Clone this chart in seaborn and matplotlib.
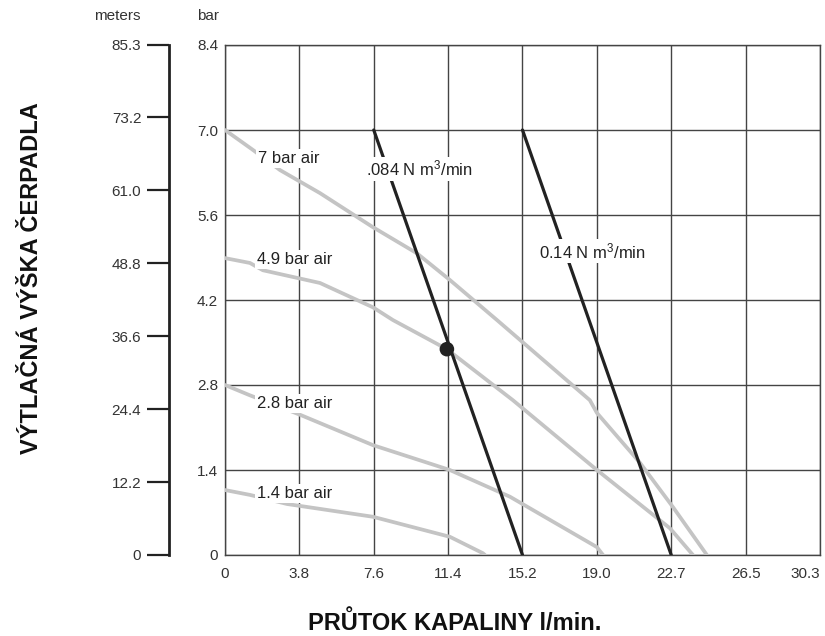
import matplotlib
matplotlib.use("Agg")
import matplotlib.pyplot as plt
import seaborn as sns

# Flow (l/min) vs. discharge pressure (bar)
x_ticks = [0, 3.7875, 7.575, 11.3625, 15.15, 18.9375, 22.725, 26.5125, 30.3]
x_labels = ["0", "3.8", "7.6", "11.4", "15.2", "19.0", "22.7", "26.5", "30.3"]
bar_ticks = [0, 1.4, 2.8, 4.2, 5.6, 7.0, 8.4]
bar_labels = ["0", "1.4", "2.8", "4.2", "5.6", "7.0", "8.4"]
meter_ticks = [0, 12.2, 24.4, 36.6, 48.8, 61.0, 73.2, 85.3]
meter_labels = ["0", "12.2", "24.4", "36.6", "48.8", "61.0", "73.2", "85.3"]

# air pressure curves
air7_x = [0, 1.43, 2.80, 4.84, 7.53, 9.77, 11.45, 13.85, 18.58, 18.94, 21.13, 22.81, 24.54]
air7_y = [7.0, 6.67, 6.34, 5.96, 5.40, 4.97, 4.53, 3.87, 2.55, 2.34, 1.52, 0.79, 0]
air49_x = [0, 1.27, 1.93, 4.84, 7.53, 8.55, 11.30, 14.66, 18.94, 22.66, 23.83]
air49_y = [4.89, 4.81, 4.69, 4.48, 4.08, 3.87, 3.39, 2.55, 1.40, 0.44, 0]
air28_x = [0, 1.27, 3.82, 7.53, 11.45, 14.51, 18.94, 19.25]
air28_y = [2.80, 2.63, 2.31, 1.81, 1.40, 0.96, 0.13, 0]
air14_x = [0, 1.27, 3.16, 7.53, 11.45, 13.13, 13.24]
air14_y = [1.07, 0.99, 0.84, 0.63, 0.30, 0.03, 0]

# air consumption lines
cons084_x = [7.575, 15.15]
cons084_y = [7.0, 0]
cons014_x = [15.15, 22.725]
cons014_y = [7.0, 0]

# operating point
point_x = [11.30]
point_y = [3.39]

sns.set_style("white")
plt.rcParams["font.family"] = ["Liberation Sans", "DejaVu Sans"]
plt.rcParams["mathtext.default"] = "regular"

fig = plt.figure(figsize=(8.25, 6.36), dpi=100)
ax = fig.add_axes([225 / 825, 1 - 555 / 636, 595 / 825, 510 / 636])

grey = "#c4c4c4"
for xs, ys in [(air7_x, air7_y), (air49_x, air49_y), (air28_x, air28_y), (air14_x, air14_y)]:
    sns.lineplot(x=xs, y=ys, sort=False, color=grey, lw=2.7, ax=ax, zorder=3)

for xs, ys in [(cons084_x, cons084_y), (cons014_x, cons014_y)]:
    sns.lineplot(x=xs, y=ys, sort=False, color="#222222", lw=2.3, ax=ax, zorder=4)

sns.scatterplot(x=point_x, y=point_y, s=110, color="#222222", edgecolor="none", ax=ax, zorder=5)

box = dict(facecolor="white", edgecolor="none", pad=1.5)
lbl = dict(fontsize=12, color="#222222", va="center", ha="left", bbox=box, zorder=6)
ax.text(1.68, 6.53, "7 bar air", **lbl)
ax.text(1.63, 4.86, "4.9 bar air", **lbl)
ax.text(1.63, 2.50, "2.8 bar air", **lbl)
ax.text(1.63, 1.02, "1.4 bar air", **lbl)
ax.text(7.2, 6.36, ".084 N m$^3$/min", **lbl)
ax.text(16.0, 5.0, "0.14 N m$^3$/min", **lbl)

ax.set_xlim(0, 30.3)
ax.set_ylim(0, 8.4)
ax.set_xticks(x_ticks)
ax.set_xticklabels(x_labels)
ax.set_yticks(bar_ticks)
ax.set_yticklabels(bar_labels)
ax.get_xticklabels()[-1].set_ha("right")
ax.grid(True, color="#444444", lw=1.0)
ax.set_axisbelow(True)
for s in ax.spines.values():
    s.set_color("#444444")
    s.set_linewidth(1.0)
ax.tick_params(length=0, labelsize=11, labelcolor="#333333")
ax.tick_params(axis="x", pad=9)
ax.tick_params(axis="y", pad=5)

# meters scale on the far left
sec = ax.secondary_yaxis(-0.094, functions=(lambda b: b * 85.3 / 8.4, lambda m: m * 8.4 / 85.3))
sec.set_yticks(meter_ticks)
sec.set_yticklabels(meter_labels)
sec.spines["left"].set_linewidth(2.0)
sec.spines["left"].set_color("#222222")
sec.tick_params(length=16, width=1.6, color="#222222", labelsize=11, labelcolor="#333333", pad=4)

fig.text(117 / 825, 1 - 16 / 636, "meters", fontsize=11, color="#333333", ha="center", va="center")
fig.text(208 / 825, 1 - 16 / 636, "bar", fontsize=11, color="#333333", ha="center", va="center")

fig.text(32 / 825, 1 - 278 / 636, "VÝTLAČNÁ VÝŠKA ČERPADLA", fontsize=17, fontweight="bold",
         rotation=90, ha="center", va="center", color="#111111")
fig.text(308 / 825, 1 - 623 / 636, "PRŮTOK KAPALINY l/min.", fontsize=17, fontweight="bold",
         ha="left", va="center", color="#111111")

fig.savefig("out.png", dpi=100)
